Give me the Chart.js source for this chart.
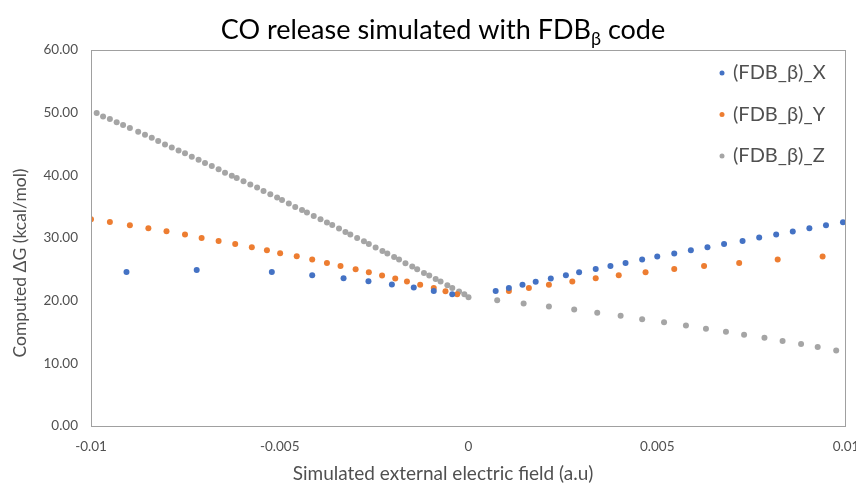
<!DOCTYPE html>
<html>
<head>
<meta charset="utf-8">
<script src="https://cdn.jsdelivr.net/npm/chart.js@4.4.0/dist/chart.umd.min.js"></script>
<style>
  html, body { margin: 0; padding: 0; background: #fff; }
  #wrap { width: 856px; height: 484px; position: relative; }
</style>
</head>
<body>
<div id="wrap"><canvas id="chart"></canvas></div>
<script>
// valeurs (champ en a.u, ΔG en kcal/mol)
const seriesNames = ['(FDB_β)_X', '(FDB_β)_Y', '(FDB_β)_Z'];
const seriesColors = ['#4472C4', '#ED7D31', '#A5A5A5'];

const fieldX = [-0.00906, -0.00720, -0.00521, -0.00414, -0.00331, -0.00265, -0.00203, -0.00145, -0.00092, -0.00043,
  0.00072, 0.00107, 0.00143, 0.00178, 0.00218, 0.00258, 0.00293, 0.00337, 0.00376, 0.00416, 0.00460, 0.00500,
  0.00545, 0.00589, 0.00633, 0.00677, 0.00726, 0.00770, 0.00815, 0.00859, 0.00903, 0.00947, 0.00992];
const dgX = [24.59, 24.91, 24.59, 24.06, 23.59, 23.11, 22.58, 22.10, 21.56, 21.04,
  21.56, 22.04, 22.52, 23.00, 23.54, 24.06, 24.54, 25.07, 25.55, 26.02, 26.57, 27.04,
  27.52, 28.05, 28.53, 29.05, 29.53, 30.07, 30.55, 31.03, 31.55, 32.03, 32.51];

const fieldY = [-0.01000, -0.00950, -0.00897, -0.00848, -0.00800, -0.00751, -0.00707, -0.00662, -0.00618, -0.00574,
  -0.00534, -0.00499, -0.00455, -0.00414, -0.00375, -0.00339, -0.00299, -0.00264, -0.00229, -0.00194, -0.00163,
  -0.00128, -0.00092, -0.00061, -0.00030,
  0.00107, 0.00160, 0.00213, 0.00275, 0.00337, 0.00398, 0.00469, 0.00545, 0.00624, 0.00717, 0.00819, 0.00938];
const dgY = [32.99, 32.56, 32.03, 31.55, 31.08, 30.55, 30.01, 29.53, 29.05, 28.53,
  28.05, 27.57, 27.09, 26.57, 26.02, 25.55, 25.02, 24.54, 24.02, 23.54, 23.06,
  22.52, 22.04, 21.51, 21.04,
  21.56, 22.04, 22.52, 23.06, 23.59, 24.06, 24.54, 25.07, 25.55, 26.02, 26.57, 27.04];

const fieldZ = [-0.00985, -0.00968, -0.00950, -0.00932, -0.00915, -0.00897, -0.00875, -0.00857, -0.00839, -0.00822,
  -0.00804, -0.00786, -0.00768, -0.00751, -0.00733, -0.00715, -0.00698, -0.00680, -0.00662, -0.00645,
  -0.00627, -0.00614, -0.00596, -0.00578, -0.00560, -0.00543, -0.00525, -0.00507, -0.00494, -0.00476,
  -0.00459, -0.00441, -0.00428, -0.00410, -0.00392, -0.00375, -0.00361, -0.00343, -0.00326, -0.00313,
  -0.00295, -0.00277, -0.00264, -0.00246, -0.00228, -0.00215, -0.00197, -0.00184, -0.00167, -0.00149,
  -0.00136, -0.00118, -0.00104, -0.00087, -0.00074, -0.00056, -0.00043, -0.00025, -0.00011, 0,
  0.00076, 0.00146, 0.00213, 0.00280, 0.00341, 0.00403, 0.00460, 0.00518, 0.00576, 0.00629, 0.00682,
  0.00730, 0.00784, 0.00832, 0.00881, 0.00925, 0.00974];
const dgZ = [49.93, 49.40, 48.97, 48.49, 48.02, 47.54, 46.96, 46.49, 46.01, 45.47,
  44.94, 44.46, 43.98, 43.51, 42.98, 42.50, 41.96, 41.48, 40.96, 40.43,
  39.95, 39.57, 39.04, 38.52, 38.04, 37.50, 36.97, 36.45, 36.06, 35.49,
  34.95, 34.47, 34.06, 33.51, 32.99, 32.46, 32.08, 31.51, 30.96, 30.55,
  30.01, 29.48, 29.05, 28.48, 27.94, 27.52, 26.98, 26.57, 25.98, 25.45,
  25.02, 24.43, 24.02, 23.47, 23.06, 22.47, 22.04, 21.47, 21.04, 20.56,
  20.08, 19.55, 19.08, 18.60, 18.06, 17.58, 17.05, 16.57, 16.05, 15.51, 15.03,
  14.55, 14.07, 13.55, 13.07, 12.59, 12.06];

const xTickMin = -0.01, xTickMax = 0.01, xTickStep = 0.005;
const yTickMin = 0, yTickMax = 60, yTickStep = 10;

const FONT = 'Lato, "Open Sans", sans-serif';
const TEXT = '#505050';

function pts(xs, ys) { return xs.map((x, i) => ({ x: x, y: ys[i] })); }

const allX = [fieldX, fieldY, fieldZ];
const allY = [dgX, dgY, dgZ];

// titre, titres d'axes, cadre et légende dessinés à la main
const decorPlugin = {
    id: 'decor',
    afterDraw(chart) {
        const ctx = chart.ctx;
        const a = chart.chartArea;
        ctx.save();

        // cadre de la zone de tracé
        ctx.strokeStyle = '#A0A0A0';
        ctx.lineWidth = 1;
        ctx.strokeRect(a.left + 0.5, a.top + 0.5, a.right - a.left - 1, a.bottom - a.top);

        // titre avec β en indice
        const big = '27px ' + FONT, small = '18px ' + FONT;
        const p1 = 'CO release simulated with FDB', p2 = 'β', p3 = ' code';
        ctx.font = big;
        const w1 = ctx.measureText(p1).width, w3 = ctx.measureText(p3).width;
        ctx.font = small;
        const w2 = ctx.measureText(p2).width;
        let x = 443 - (w1 + w2 + w3) / 2;
        const base = 39;
        ctx.fillStyle = '#000';
        ctx.textBaseline = 'alphabetic';
        ctx.textAlign = 'left';
        ctx.font = big; ctx.fillText(p1, x, base); x += w1;
        ctx.font = small; ctx.fillText(p2, x, base + 6); x += w2;
        ctx.font = big; ctx.fillText(p3, x, base);

        // titres des axes
        ctx.fillStyle = TEXT;
        ctx.textAlign = 'center';
        ctx.textBaseline = 'middle';
        ctx.font = '19px ' + FONT;
        ctx.fillText('Simulated external electric field (a.u)', 443, 474);
        ctx.font = '17.5px ' + FONT;
        ctx.translate(20, 263);
        ctx.rotate(-Math.PI / 2);
        ctx.fillText('Computed ΔG (kcal/mol)', 0, 0);
        ctx.setTransform(1, 0, 0, 1, 0, 0);

        // légende
        ctx.textAlign = 'left';
        ctx.font = '20px ' + FONT;
        chart.data.datasets.forEach((ds, i) => {
            const ly = 73 + i * 41.5;
            ctx.fillStyle = ds.backgroundColor;
            ctx.beginPath();
            ctx.arc(722, ly, 2.5, 0, Math.PI * 2);
            ctx.fill();
            ctx.fillStyle = TEXT;
            ctx.fillText(ds.label, 733, ly);
        });
        ctx.restore();
    }
};

new Chart(document.getElementById('chart'), {
    type: 'scatter',
    data: {
        datasets: seriesNames.map((name, i) => ({
            label: name,
            data: pts(allX[i], allY[i]),
            backgroundColor: seriesColors[i],
            borderColor: seriesColors[i],
            borderWidth: 0,
            pointRadius: 3,
            pointHoverRadius: 3
        }))
    },
    options: {
        responsive: true,
        maintainAspectRatio: false,
        animation: false,
        layout: { padding: { top: 50, right: 10, left: 0, bottom: 0 } },
        plugins: {
            legend: { display: false },
            tooltip: { enabled: false }
        },
        scales: {
            x: {
                type: 'linear',
                min: xTickMin,
                max: xTickMax,
                grid: { display: false, drawTicks: false },
                border: { display: false },
                ticks: {
                    stepSize: xTickStep,
                    padding: 13,
                    maxRotation: 0,
                    color: TEXT,
                    font: { family: FONT, size: 13.5 },
                    callback: v => String(Number(v.toFixed(4)))
                },
                afterFit: s => { s.height = 58; s.paddingLeft = 0; s.paddingRight = 0; }
            },
            y: {
                min: yTickMin,
                max: yTickMax,
                grid: { display: false, drawTicks: false },
                border: { display: false },
                ticks: {
                    stepSize: yTickStep,
                    padding: 13,
                    color: TEXT,
                    font: { family: FONT, size: 13.5 },
                    callback: v => v.toFixed(2)
                },
                afterFit: s => { s.width = 91; s.paddingTop = 0; s.paddingBottom = 0; }
            }
        }
    },
    plugins: [decorPlugin]
});
</script>
</body>
</html>
